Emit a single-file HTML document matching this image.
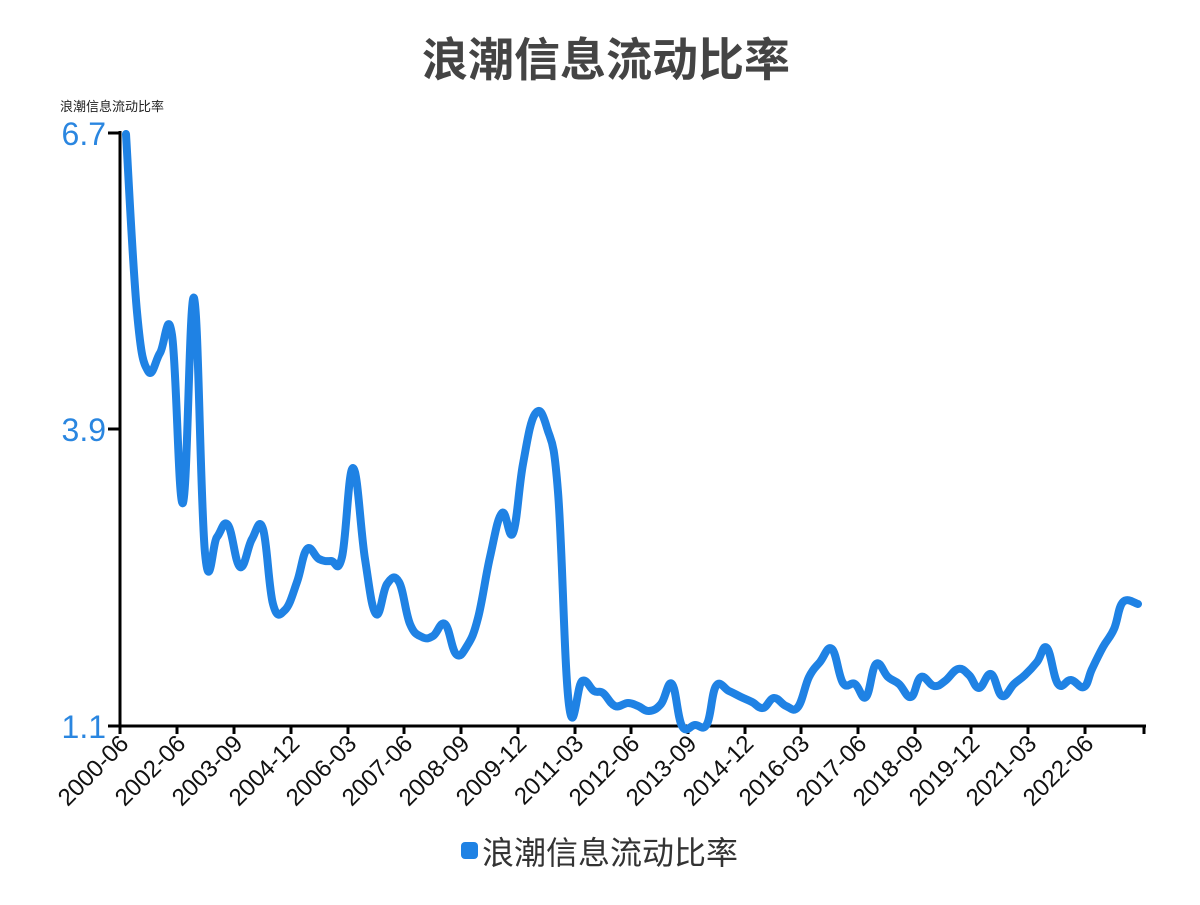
<!DOCTYPE html>
<html><head><meta charset="utf-8"><style>
body{margin:0;background:#fff}
svg text{font-family:"Liberation Sans","Noto Sans CJK SC",sans-serif}
</style></head><body>
<svg width="1200" height="900" xmlns="http://www.w3.org/2000/svg">
<text x="606" y="76" text-anchor="middle" font-size="46" font-weight="bold" fill="#444">浪潮信息流动比率</text>
<text x="60" y="111" font-size="13" fill="#222">浪潮信息流动比率</text>
<g font-size="32" fill="#2a86e0" text-anchor="end">
<text x="106" y="145">6.7</text><text x="106" y="441">3.9</text><text x="106" y="738">1.1</text>
</g>
<g stroke="#000" stroke-width="3" fill="none">
<line x1="120" y1="131" x2="120" y2="728"/>
<line x1="118" y1="726" x2="1146" y2="726"/>
<line x1="108" y1="133" x2="120" y2="133"/><line x1="108" y1="429" x2="120" y2="429"/><line x1="108" y1="726" x2="120" y2="726"/>
</g>
<g stroke="#000" stroke-width="3">
<line x1="120" y1="726" x2="120" y2="734"/><line x1="177" y1="726" x2="177" y2="734"/><line x1="234" y1="726" x2="234" y2="734"/><line x1="291" y1="726" x2="291" y2="734"/><line x1="348" y1="726" x2="348" y2="734"/><line x1="404" y1="726" x2="404" y2="734"/><line x1="461" y1="726" x2="461" y2="734"/><line x1="518" y1="726" x2="518" y2="734"/><line x1="575" y1="726" x2="575" y2="734"/><line x1="631" y1="726" x2="631" y2="734"/><line x1="688" y1="726" x2="688" y2="734"/><line x1="745" y1="726" x2="745" y2="734"/><line x1="801" y1="726" x2="801" y2="734"/><line x1="858" y1="726" x2="858" y2="734"/><line x1="915" y1="726" x2="915" y2="734"/><line x1="971" y1="726" x2="971" y2="734"/><line x1="1028" y1="726" x2="1028" y2="734"/><line x1="1085" y1="726" x2="1085" y2="734"/><line x1="1144" y1="726" x2="1144" y2="734"/>
</g>
<g font-size="24" fill="#111" text-anchor="end">
<text transform="translate(130,745) rotate(-45)">2000-06</text>
<text transform="translate(187,745) rotate(-45)">2002-06</text>
<text transform="translate(244,745) rotate(-45)">2003-09</text>
<text transform="translate(301,745) rotate(-45)">2004-12</text>
<text transform="translate(358,745) rotate(-45)">2006-03</text>
<text transform="translate(414,745) rotate(-45)">2007-06</text>
<text transform="translate(471,745) rotate(-45)">2008-09</text>
<text transform="translate(528,745) rotate(-45)">2009-12</text>
<text transform="translate(585,745) rotate(-45)">2011-03</text>
<text transform="translate(641,745) rotate(-45)">2012-06</text>
<text transform="translate(698,745) rotate(-45)">2013-09</text>
<text transform="translate(755,745) rotate(-45)">2014-12</text>
<text transform="translate(811,745) rotate(-45)">2016-03</text>
<text transform="translate(868,745) rotate(-45)">2017-06</text>
<text transform="translate(925,745) rotate(-45)">2018-09</text>
<text transform="translate(981,745) rotate(-45)">2019-12</text>
<text transform="translate(1038,745) rotate(-45)">2021-03</text>
<text transform="translate(1095,745) rotate(-45)">2022-06</text>
</g>
<path id="ln" fill="none" stroke="#1f82e4" stroke-width="8" stroke-linejoin="round" stroke-linecap="round" d=""/>
<rect x="461" y="842" width="17" height="17" rx="4" fill="#1f82e4"/>
<text x="482" y="864" font-size="32" fill="#333">浪潮信息流动比率</text>
</svg>
<script>
var p=[126,134,137,312,148,371,160,353,172,335,183,503,194,298,205,553,217,537,228,525,240,567,252,539,263,529,273,604,285,610,297,582,307,549,319,559,331,561,342,557,353,468,365,559,376,614,387,584,399,582,410,624,422,637,433,636,445,624,456,654,467,646,478,618,490,557,502,513,513,533,523,464,535,414,547,428,558,492,569,705,582,681,594,691,603,693,615,706,628,703,638,706,649,711,661,704,672,684,682,726,695,725,707,724,716,686,729,691,741,697,752,702,763,708,774,698,786,706,798,707,809,677,820,662,832,649,843,683,855,684,866,697,876,664,888,677,899,684,911,697,921,677,934,686,945,681,958,669,969,675,979,688,991,674,1002,696,1014,684,1025,675,1037,662,1047,648,1058,684,1071,680,1084,687,1092,669,1103,647,1114,629,1123,602,1138,604];
var pts=[];for(var i=0;i<p.length;i+=2)pts.push([p[i],p[i+1]]);
var d="M"+pts[0][0]+","+pts[0][1],t=0.2;
for(var i=0;i<pts.length-1;i++){var a=pts[Math.max(i-1,0)],b=pts[i],c=pts[i+1],e=pts[Math.min(i+2,pts.length-1)];
d+=" C"+(b[0]+(c[0]-a[0])*t)+","+(b[1]+(c[1]-a[1])*t)+" "+(c[0]-(e[0]-b[0])*t)+","+(c[1]-(e[1]-b[1])*t)+" "+c[0]+","+c[1];}
document.getElementById("ln").setAttribute("d",d);
</script>
</body></html>
